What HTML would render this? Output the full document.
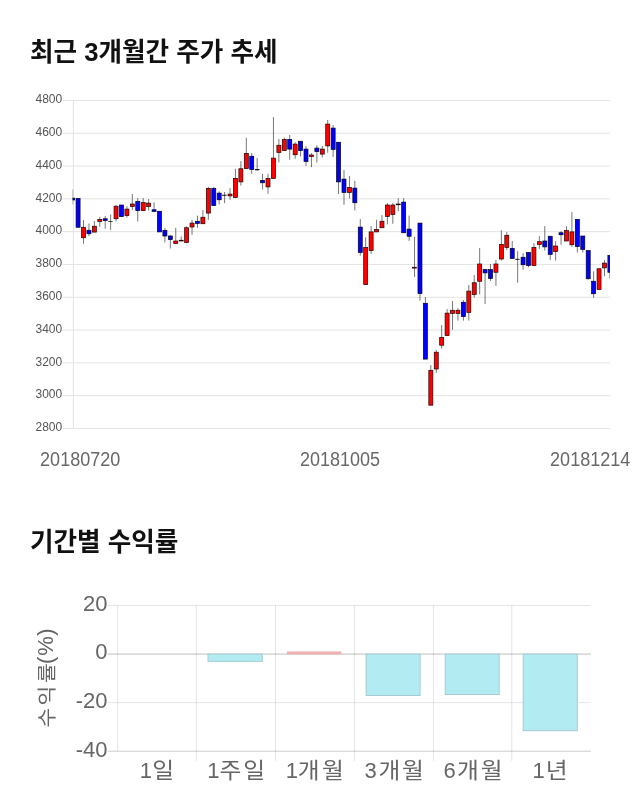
<!DOCTYPE html>
<html lang="ko"><head><meta charset="utf-8"><title>최근 3개월간 주가 추세</title>
<style>
html,body{margin:0;padding:0;background:#fff;}
body{width:640px;height:810px;overflow:hidden;position:relative;font-family:"Liberation Sans","Noto Sans CJK KR",sans-serif;}
svg{position:absolute;left:0;top:0;display:block}
.h{font-family:"Liberation Sans","Noto Sans CJK KR",sans-serif;font-weight:700;font-size:25.6px;fill:#111}
.yt{font-family:"Liberation Sans",sans-serif;font-size:12px;fill:#555;text-anchor:end}
.xt{font-family:"Liberation Sans","Noto Sans CJK KR",sans-serif;font-size:19.6px;fill:#686868;text-anchor:middle}
.c2{font-family:"Liberation Sans","Noto Sans CJK KR",sans-serif;font-size:22px;fill:#666}
.w{stroke:#000;stroke-opacity:.6;stroke-width:.9;fill:none}
.r{fill:#f00;stroke:#200;stroke-width:.7}
.b{fill:#00f;stroke:#002;stroke-width:.7}
.k{fill:#000;stroke:#000;stroke-width:.5}
</style></head><body>
<svg width="640" height="810" viewBox="0 0 640 810">
<rect width="640" height="810" fill="#fff"/>
<text class="h" x="30" y="61">최근 3개월간 주가 추세</text>
<g stroke="#e4e4e4" stroke-width="1" fill="none">
<line x1="62.5" y1="100.45" x2="610.0" y2="100.45"/>
<line x1="62.5" y1="133.25" x2="610.0" y2="133.25"/>
<line x1="62.5" y1="166.05" x2="610.0" y2="166.05"/>
<line x1="62.5" y1="198.85" x2="610.0" y2="198.85"/>
<line x1="62.5" y1="231.65" x2="610.0" y2="231.65"/>
<line x1="62.5" y1="264.45" x2="610.0" y2="264.45"/>
<line x1="62.5" y1="297.25" x2="610.0" y2="297.25"/>
<line x1="62.5" y1="330.05" x2="610.0" y2="330.05"/>
<line x1="62.5" y1="362.85" x2="610.0" y2="362.85"/>
<line x1="62.5" y1="395.65" x2="610.0" y2="395.65"/>
<line x1="62.5" y1="428.45" x2="610.0" y2="428.45"/>
<line x1="73.4" y1="100.45" x2="73.4" y2="428.45"/>
</g>
<text class="yt" x="62.2" y="103.15">4800</text>
<text class="yt" x="62.2" y="135.95">4600</text>
<text class="yt" x="62.2" y="168.75">4400</text>
<text class="yt" x="62.2" y="201.55">4200</text>
<text class="yt" x="62.2" y="234.35">4000</text>
<text class="yt" x="62.2" y="267.15">3800</text>
<text class="yt" x="62.2" y="299.95">3600</text>
<text class="yt" x="62.2" y="332.75">3400</text>
<text class="yt" x="62.2" y="365.55">3200</text>
<text class="yt" x="62.2" y="398.35">3000</text>
<text class="yt" x="62.2" y="431.15">2800</text>
<clipPath id="cp"><rect x="72.60000000000001" y="95.45" width="537.4" height="338.0"/></clipPath>
<g clip-path="url(#cp)">
<path class="w" d="M72.65 189.40V204.40"/><rect class="b" x="70.65" y="198.10" width="4.0" height="1.90"/>
<path class="w" d="M78.08 198.50V227.25"/><rect class="b" x="76.08" y="198.50" width="4.0" height="28.75"/>
<path class="w" d="M83.50 220.00V243.75"/><rect class="r" x="81.50" y="227.25" width="4.0" height="10.50"/>
<path class="w" d="M88.93 223.50V236.00"/><rect class="b" x="86.93" y="230.25" width="4.0" height="3.50"/>
<path class="w" d="M94.36 221.00V232.10"/><rect class="r" x="92.36" y="226.25" width="4.0" height="5.85"/>
<path class="w" d="M99.78 216.90V226.90"/><rect class="r" x="97.78" y="219.40" width="4.0" height="2.10"/>
<path class="w" d="M105.21 216.00V228.75"/><rect class="b" x="103.21" y="218.75" width="4.0" height="1.85"/>
<path class="w" d="M110.64 214.40V229.75"/><rect class="k" x="108.64" y="221.25" width="4.0" height="0.40"/>
<path class="w" d="M116.06 205.00V221.50"/><rect class="r" x="114.06" y="206.25" width="4.0" height="12.50"/>
<path class="w" d="M121.49 205.00V216.60"/><rect class="b" x="119.49" y="205.00" width="4.0" height="11.60"/>
<path class="w" d="M126.92 206.25V217.50"/><rect class="r" x="124.92" y="209.10" width="4.0" height="6.50"/>
<path class="w" d="M132.34 194.00V210.00"/><rect class="r" x="130.34" y="204.00" width="4.0" height="2.60"/>
<path class="w" d="M137.77 198.10V221.50"/><rect class="b" x="135.77" y="201.50" width="4.0" height="9.10"/>
<path class="w" d="M143.20 198.10V210.60"/><rect class="r" x="141.20" y="202.50" width="4.0" height="8.10"/>
<path class="w" d="M148.63 199.00V210.60"/><rect class="r" x="146.63" y="203.10" width="4.0" height="3.50"/>
<path class="w" d="M154.05 202.25V211.50"/><rect class="b" x="152.05" y="209.75" width="4.0" height="1.75"/>
<path class="w" d="M159.48 211.25V231.90"/><rect class="b" x="157.48" y="211.25" width="4.0" height="20.65"/>
<path class="w" d="M164.91 227.75V242.50"/><rect class="b" x="162.91" y="230.40" width="4.0" height="5.60"/>
<path class="w" d="M170.33 235.00V248.50"/><rect class="b" x="168.33" y="236.00" width="4.0" height="3.60"/>
<path class="w" d="M175.76 227.75V243.50"/><rect class="r" x="173.76" y="241.00" width="4.0" height="2.50"/>
<path class="w" d="M181.19 236.25V241.00"/><rect class="r" x="179.19" y="240.25" width="4.0" height="0.75"/>
<path class="w" d="M186.61 226.25V242.50"/><rect class="r" x="184.61" y="227.75" width="4.0" height="14.75"/>
<path class="w" d="M192.04 220.00V234.75"/><rect class="r" x="190.04" y="223.10" width="4.0" height="3.90"/>
<path class="w" d="M197.47 215.60V227.75"/><rect class="b" x="195.47" y="221.25" width="4.0" height="2.25"/>
<path class="w" d="M202.89 210.00V223.75"/><rect class="r" x="200.89" y="217.25" width="4.0" height="6.50"/>
<path class="w" d="M208.32 186.90V219.75"/><rect class="r" x="206.32" y="188.40" width="4.0" height="24.70"/>
<path class="w" d="M213.75 186.90V205.60"/><rect class="b" x="211.75" y="188.40" width="4.0" height="17.20"/>
<path class="w" d="M219.17 191.25V204.40"/><rect class="b" x="217.17" y="193.10" width="4.0" height="6.65"/>
<path class="w" d="M224.60 191.90V203.10"/><rect class="k" x="222.60" y="195.00" width="4.0" height="0.40"/>
<path class="w" d="M230.03 188.10V199.75"/><rect class="r" x="228.03" y="194.10" width="4.0" height="1.80"/>
<path class="w" d="M235.45 168.75V198.00"/><rect class="r" x="233.45" y="178.40" width="4.0" height="19.10"/>
<path class="w" d="M240.88 161.00V185.60"/><rect class="r" x="238.88" y="168.75" width="4.0" height="13.15"/>
<path class="w" d="M246.31 137.75V168.50"/><rect class="r" x="244.31" y="153.40" width="4.0" height="15.10"/>
<path class="w" d="M251.73 153.10V173.75"/><rect class="b" x="249.73" y="156.25" width="4.0" height="13.35"/>
<path class="w" d="M257.16 158.10V170.60"/><rect class="k" x="255.16" y="169.60" width="4.0" height="0.40"/>
<path class="w" d="M262.59 173.75V189.40"/><rect class="b" x="260.59" y="180.40" width="4.0" height="2.35"/>
<path class="w" d="M268.01 173.75V193.75"/><rect class="r" x="266.01" y="178.50" width="4.0" height="8.40"/>
<path class="w" d="M273.44 117.10V178.50"/><rect class="r" x="271.44" y="158.10" width="4.0" height="20.40"/>
<path class="w" d="M278.87 139.00V162.50"/><rect class="r" x="276.87" y="145.25" width="4.0" height="7.25"/>
<path class="w" d="M284.30 137.75V150.60"/><rect class="r" x="282.30" y="139.40" width="4.0" height="11.20"/>
<path class="w" d="M289.72 135.00V159.75"/><rect class="b" x="287.72" y="139.40" width="4.0" height="9.70"/>
<path class="w" d="M295.15 142.25V158.75"/><rect class="r" x="293.15" y="144.10" width="4.0" height="10.65"/>
<path class="w" d="M300.58 141.25V156.50"/><rect class="b" x="298.58" y="141.25" width="4.0" height="9.35"/>
<path class="w" d="M306.00 146.00V165.90"/><rect class="b" x="304.00" y="149.10" width="4.0" height="12.40"/>
<path class="w" d="M311.43 153.10V167.10"/><rect class="r" x="309.43" y="155.00" width="4.0" height="1.60"/>
<path class="w" d="M316.86 145.25V162.50"/><rect class="b" x="314.86" y="148.10" width="4.0" height="3.50"/>
<path class="w" d="M322.28 146.00V157.50"/><rect class="r" x="320.28" y="149.10" width="4.0" height="5.00"/>
<path class="w" d="M327.71 120.00V152.75"/><rect class="r" x="325.71" y="124.10" width="4.0" height="21.80"/>
<path class="w" d="M333.14 125.00V156.90"/><rect class="b" x="331.14" y="128.10" width="4.0" height="21.30"/>
<path class="w" d="M338.56 142.25V194.00"/><rect class="b" x="336.56" y="142.25" width="4.0" height="39.65"/>
<path class="w" d="M343.99 170.00V204.75"/><rect class="b" x="341.99" y="179.10" width="4.0" height="13.40"/>
<path class="w" d="M349.42 176.00V198.50"/><rect class="r" x="347.42" y="187.50" width="4.0" height="5.00"/>
<path class="w" d="M354.84 181.00V210.60"/><rect class="b" x="352.84" y="188.10" width="4.0" height="14.65"/>
<path class="w" d="M360.27 219.10V255.60"/><rect class="b" x="358.27" y="227.10" width="4.0" height="25.40"/>
<path class="w" d="M365.70 237.25V284.60"/><rect class="r" x="363.70" y="247.50" width="4.0" height="37.10"/>
<path class="w" d="M371.12 226.00V253.75"/><rect class="r" x="369.12" y="231.90" width="4.0" height="18.70"/>
<path class="w" d="M376.55 219.75V231.90"/><rect class="r" x="374.55" y="229.40" width="4.0" height="2.50"/>
<path class="w" d="M381.98 215.00V227.75"/><rect class="r" x="379.98" y="221.25" width="4.0" height="6.50"/>
<path class="w" d="M387.40 203.10V224.40"/><rect class="r" x="385.40" y="205.00" width="4.0" height="11.50"/>
<path class="w" d="M392.83 203.10V223.75"/><rect class="r" x="390.83" y="205.00" width="4.0" height="9.60"/>
<path class="w" d="M398.26 198.10V211.25"/><rect class="r" x="396.26" y="204.00" width="4.0" height="0.75"/>
<path class="w" d="M403.68 198.10V232.75"/><rect class="b" x="401.68" y="202.10" width="4.0" height="30.65"/>
<path class="w" d="M409.11 215.60V240.90"/><rect class="b" x="407.11" y="229.10" width="4.0" height="7.15"/>
<path class="w" d="M414.54 236.90V276.90"/><rect class="r" x="412.54" y="267.25" width="4.0" height="0.85"/>
<path class="w" d="M419.97 223.10V300.60"/><rect class="b" x="417.97" y="223.10" width="4.0" height="70.50"/>
<path class="w" d="M425.39 297.00V359.10"/><rect class="b" x="423.39" y="303.30" width="4.0" height="55.80"/>
<path class="w" d="M430.82 365.00V405.20"/><rect class="r" x="428.82" y="370.30" width="4.0" height="34.90"/>
<path class="w" d="M436.25 350.00V372.80"/><rect class="r" x="434.25" y="352.20" width="4.0" height="16.80"/>
<path class="w" d="M441.67 325.00V348.60"/><rect class="r" x="439.67" y="337.50" width="4.0" height="7.70"/>
<path class="w" d="M447.10 309.10V335.60"/><rect class="r" x="445.10" y="313.10" width="4.0" height="22.50"/>
<path class="w" d="M452.53 301.00V329.75"/><rect class="r" x="450.53" y="310.25" width="4.0" height="3.15"/>
<path class="w" d="M457.95 308.10V320.60"/><rect class="r" x="455.95" y="310.25" width="4.0" height="3.15"/>
<path class="w" d="M463.38 300.00V320.60"/><rect class="b" x="461.38" y="302.25" width="4.0" height="14.35"/>
<path class="w" d="M468.81 285.00V320.60"/><rect class="r" x="466.81" y="291.10" width="4.0" height="21.40"/>
<path class="w" d="M474.23 275.00V297.50"/><rect class="r" x="472.23" y="282.75" width="4.0" height="11.85"/>
<path class="w" d="M479.66 248.10V294.40"/><rect class="r" x="477.66" y="264.00" width="4.0" height="17.25"/>
<path class="w" d="M485.09 269.60V304.00"/><rect class="b" x="483.09" y="269.60" width="4.0" height="3.30"/>
<path class="w" d="M490.51 264.00V280.90"/><rect class="b" x="488.51" y="269.60" width="4.0" height="8.90"/>
<path class="w" d="M495.94 260.00V285.90"/><rect class="r" x="493.94" y="264.00" width="4.0" height="8.25"/>
<path class="w" d="M501.37 230.25V260.60"/><rect class="r" x="499.37" y="244.40" width="4.0" height="14.60"/>
<path class="w" d="M506.79 232.10V250.00"/><rect class="r" x="504.79" y="235.25" width="4.0" height="12.25"/>
<path class="w" d="M512.22 241.00V258.40"/><rect class="b" x="510.22" y="248.40" width="4.0" height="10.00"/>
<path class="w" d="M517.65 251.25V282.75"/><rect class="k" x="515.65" y="259.10" width="4.0" height="0.40"/>
<path class="w" d="M523.07 253.10V269.75"/><rect class="b" x="521.07" y="257.25" width="4.0" height="7.50"/>
<path class="w" d="M528.50 252.50V267.25"/><rect class="b" x="526.50" y="252.50" width="4.0" height="13.10"/>
<path class="w" d="M533.93 243.10V265.60"/><rect class="r" x="531.93" y="247.50" width="4.0" height="18.10"/>
<path class="w" d="M539.35 236.10V248.90"/><rect class="r" x="537.35" y="241.70" width="4.0" height="2.80"/>
<path class="w" d="M544.78 226.00V250.60"/><rect class="b" x="542.78" y="241.00" width="4.0" height="5.90"/>
<path class="w" d="M550.21 236.25V260.00"/><rect class="b" x="548.21" y="236.25" width="4.0" height="18.15"/>
<path class="w" d="M555.64 241.25V260.60"/><rect class="r" x="553.64" y="246.00" width="4.0" height="5.60"/>
<path class="w" d="M561.06 231.25V244.75"/><rect class="b" x="559.06" y="232.75" width="4.0" height="2.00"/>
<path class="w" d="M566.49 226.25V241.00"/><rect class="r" x="564.49" y="230.40" width="4.0" height="10.60"/>
<path class="w" d="M571.92 212.10V246.90"/><rect class="r" x="569.92" y="231.90" width="4.0" height="12.85"/>
<path class="w" d="M577.34 219.40V252.50"/><rect class="b" x="575.34" y="219.40" width="4.0" height="27.20"/>
<path class="w" d="M582.77 236.00V252.50"/><rect class="b" x="580.77" y="236.00" width="4.0" height="13.40"/>
<path class="w" d="M588.20 250.60V279.60"/><rect class="b" x="586.20" y="250.60" width="4.0" height="28.15"/>
<path class="w" d="M593.62 271.25V297.75"/><rect class="b" x="591.62" y="281.25" width="4.0" height="12.50"/>
<path class="w" d="M599.05 268.75V289.60"/><rect class="r" x="597.05" y="268.75" width="4.0" height="20.85"/>
<path class="w" d="M604.48 260.00V276.25"/><rect class="r" x="602.48" y="263.10" width="4.0" height="4.80"/>
<path class="w" d="M609.90 255.40V278.75"/><rect class="b" x="607.90" y="255.40" width="4.0" height="16.85"/>
</g>
<text class="xt" transform="translate(80.2 465.8) scale(.92 1)">20180720</text>
<text class="xt" transform="translate(340 465.8) scale(.92 1)">20181005</text>
<text class="xt" transform="translate(590.2 465.8) scale(.92 1)">20181214</text>
<text class="h" x="30" y="551">기간별 수익률</text>
<g stroke="#000" stroke-opacity=".1" stroke-width="1" fill="none">
<line x1="117.70" y1="605.5" x2="117.70" y2="751.2"/>
<line x1="196.30" y1="605.5" x2="196.30" y2="761.2"/>
<line x1="275.50" y1="605.5" x2="275.50" y2="761.2"/>
<line x1="354.50" y1="605.5" x2="354.50" y2="761.2"/>
<line x1="433.50" y1="605.5" x2="433.50" y2="761.2"/>
<line x1="511.80" y1="605.5" x2="511.80" y2="761.2"/>
<line x1="107.7" y1="605.50" x2="590.9" y2="605.50"/>
<line x1="107.7" y1="702.63" x2="590.9" y2="702.63"/>
</g>
<line x1="107.7" y1="654.07" x2="590.9" y2="654.07" stroke="#000" stroke-opacity=".25" stroke-width="1"/>
<line x1="107.7" y1="751.20" x2="590.9" y2="751.20" stroke="#000" stroke-opacity=".2" stroke-width="1"/>
<rect x="208.00" y="654.07" width="54.25" height="7.33" fill="#b2ebf2" stroke="#a6ccd2" stroke-width="1"/>
<rect x="287.30" y="651.90" width="53.55" height="1.97" fill="#f7b9b9" stroke="#e9a0a0" stroke-width=".7"/>
<rect x="366.10" y="654.07" width="54.00" height="41.43" fill="#b2ebf2" stroke="#a6ccd2" stroke-width="1"/>
<rect x="445.20" y="654.07" width="54.00" height="40.43" fill="#b2ebf2" stroke="#a6ccd2" stroke-width="1"/>
<rect x="523.20" y="654.07" width="54.10" height="76.63" fill="#b2ebf2" stroke="#a6ccd2" stroke-width="1"/>
<text class="c2" text-anchor="end" x="107.5" y="610.80">20</text>
<text class="c2" text-anchor="end" x="107.5" y="659.37">0</text>
<text class="c2" text-anchor="end" x="107.5" y="707.93">-20</text>
<text class="c2" text-anchor="end" x="107.5" y="756.50">-40</text>
<text class="c2" y="777.5"><tspan x="139.8">1</tspan></text><text class="c2" transform="translate(0 777.5) scale(1.08 1)" x="141.02" y="0">일</text>
<text class="c2" y="777.5"><tspan x="207.3">1</tspan></text><text class="c2" transform="translate(0 777.5) scale(1.08 1)" x="203.24 225.28" y="0">주일</text>
<text class="c2" y="777.5"><tspan x="285.8">1</tspan></text><text class="c2" transform="translate(0 777.5) scale(1.08 1)" x="275.74 298.19" y="0">개월</text>
<text class="c2" y="777.5"><tspan x="364.5">3</tspan></text><text class="c2" transform="translate(0 777.5) scale(1.08 1)" x="350.56 372.13" y="0">개월</text>
<text class="c2" y="777.5"><tspan x="443.4">6</tspan></text><text class="c2" transform="translate(0 777.5) scale(1.08 1)" x="423.24 445.19" y="0">개월</text>
<text class="c2" y="777.5"><tspan x="532.5">1</tspan></text><text class="c2" transform="translate(0 777.5) scale(1.08 1)" x="505.23" y="0">년</text>
<text class="c2" style="font-size:21.5px" transform="translate(54 727.4) rotate(-90) scale(1 .92)" x="0 22 44.3">수익률</text>
<text class="c2" style="font-size:22px" transform="translate(53 727.4) rotate(-90)" x="63.4 71.6 91.6">(%)</text>
</svg>
</body></html>
